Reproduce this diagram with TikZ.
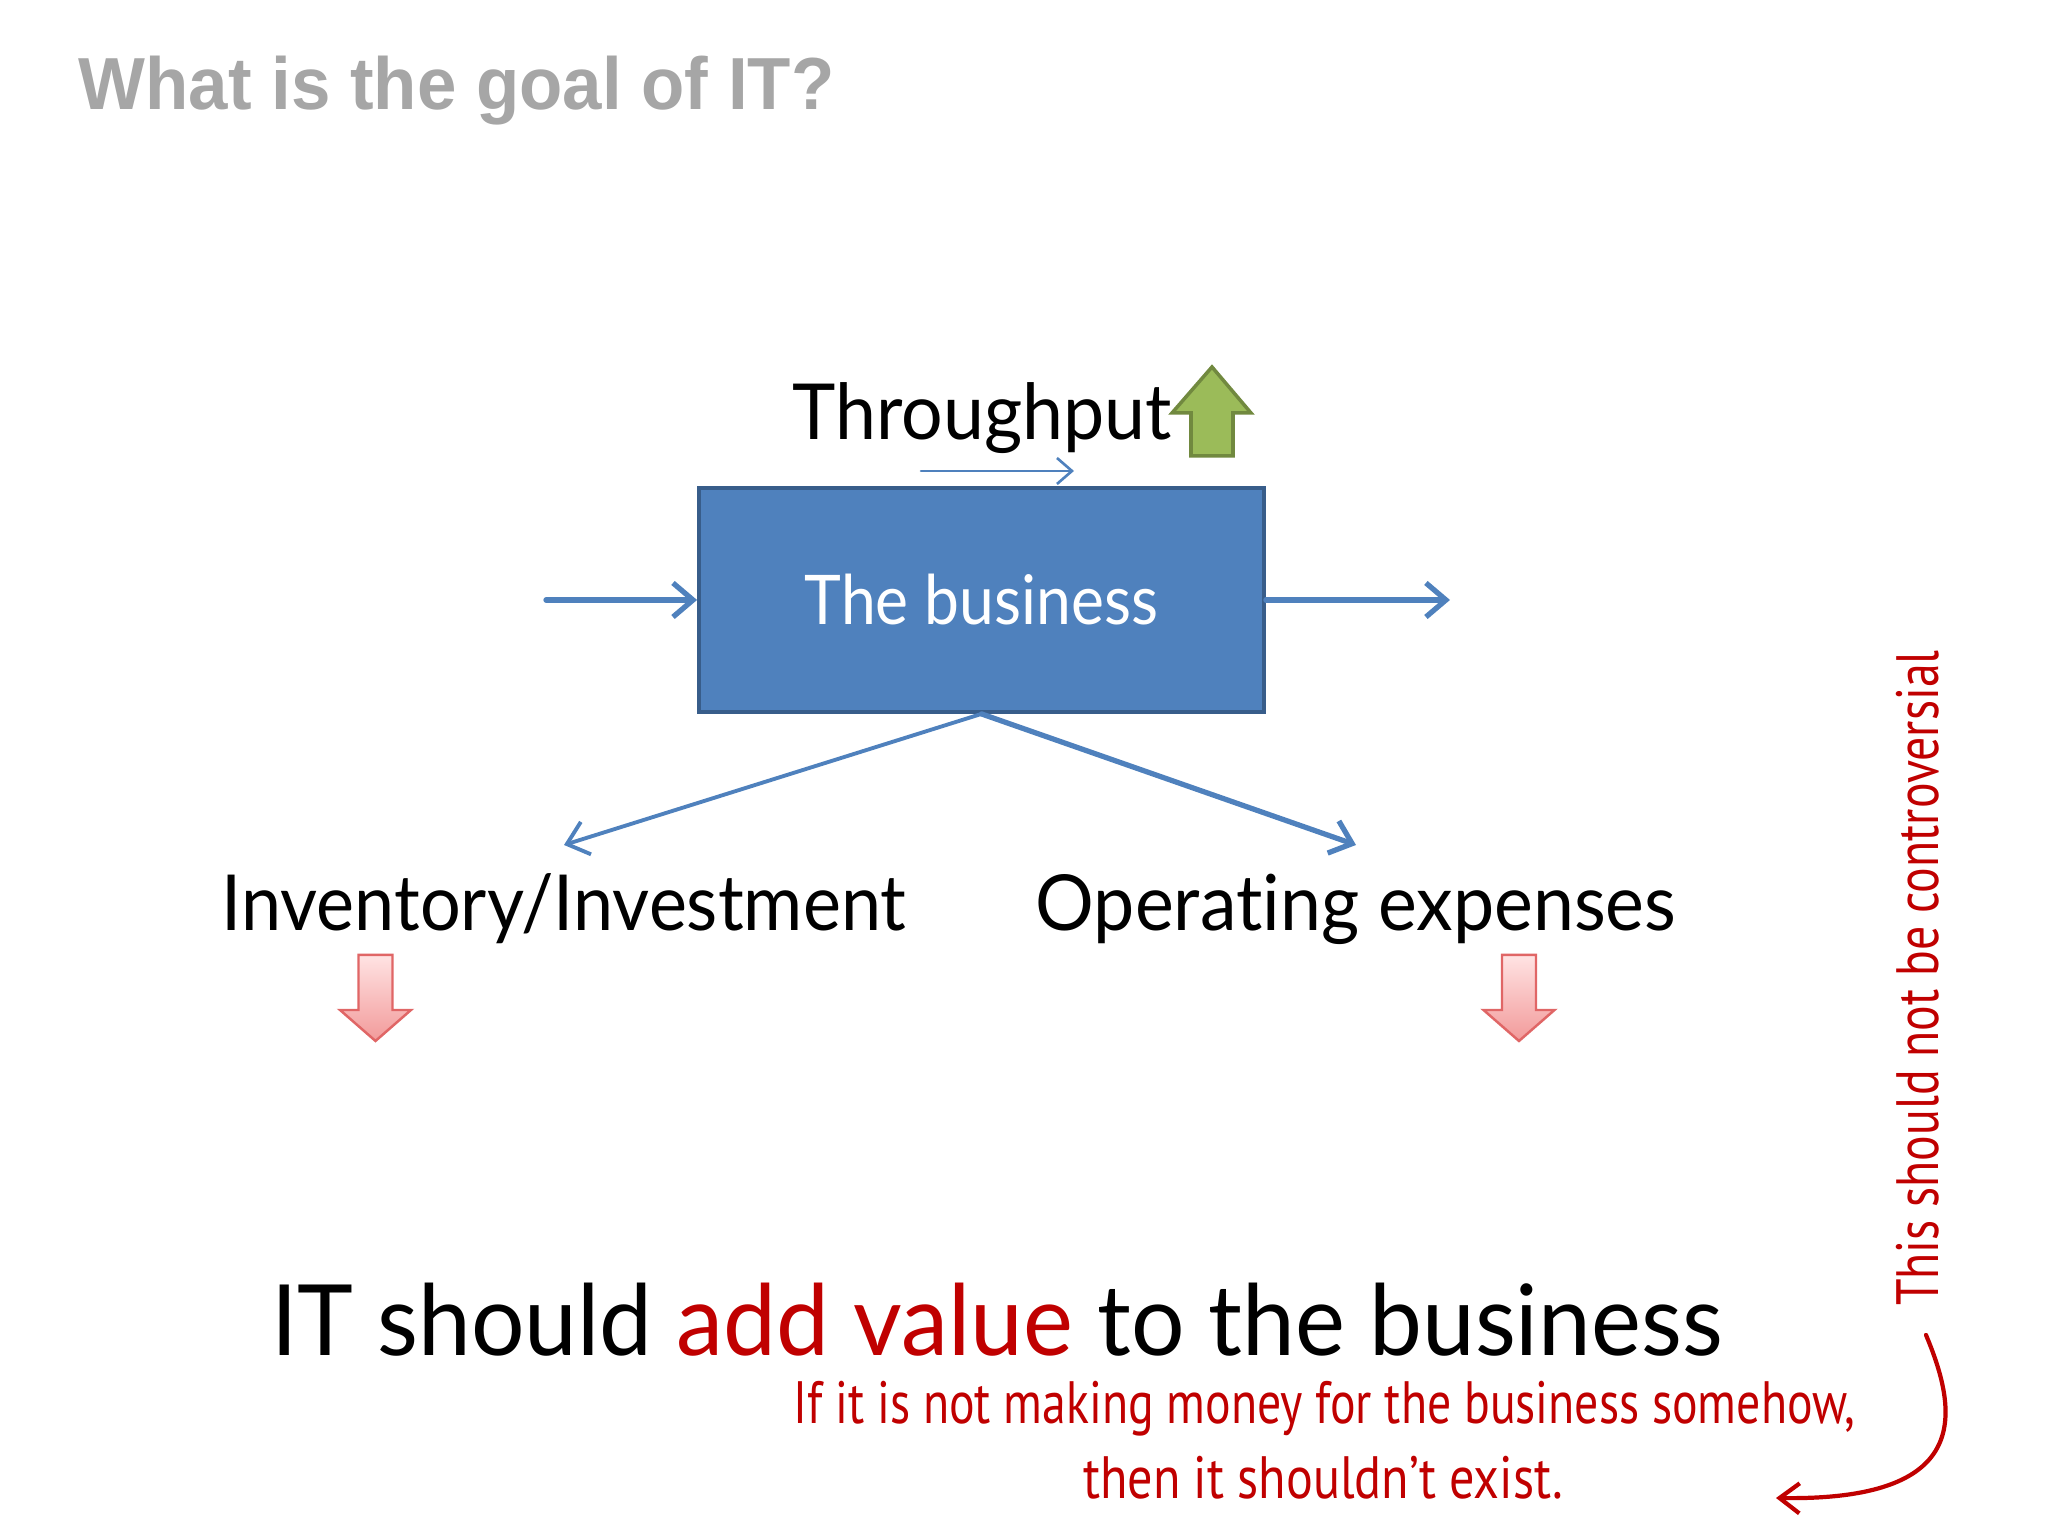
\documentclass[tikz,border=0pt]{standalone}
\usepackage{graphicx}
\usepackage{fontspec}
\setmainfont{Lato}[Ligatures=NoCommon]
\newfontfamily\titlefont{Liberation Sans}
\newfontfamily\handfont{PT Sans}
\usetikzlibrary{arrows.meta}
\definecolor{bizblue}{HTML}{4F81BD}
\definecolor{bizborder}{HTML}{385D8A}
\definecolor{upgreen}{HTML}{9BBB59}
\definecolor{upborder}{HTML}{71893F}
\definecolor{downtop}{HTML}{FFE3E3}
\definecolor{downbot}{HTML}{F29A9A}
\definecolor{downborder}{HTML}{E06666}
\definecolor{notered}{HTML}{C00000}
\definecolor{titlegray}{HTML}{A6A6A6}
\tikzset{
  flow/.style={draw=bizblue, line cap=round, -{Straight Barb[length=2mm,width=3.4mm]}},
  biglabel/.style={font=\fontsize{22}{26}\selectfont, anchor=base, inner sep=0},
  uparrow/.style={draw=upborder, fill=upgreen, line width=1pt},
  downarrow/.style={draw=downborder, top color=downtop, bottom color=downbot, line width=0.7pt},
  note/.style={text=notered, font=\handfont\fontsize{17}{20}\selectfont, inner sep=0},
}
\begin{document}
\begin{tikzpicture}
    \useasboundingbox (0,0) rectangle (20.48,15.36);
    \node[anchor=base west, text=titlegray, font=\titlefont\bfseries\fontsize{21}{25}\selectfont, inner sep=0] (title) at (0.78,14.26) {\scalebox{0.96}[1]{What is the goal of IT?}};
    \node[draw=bizborder, fill=bizblue, line width=1.1pt, minimum width=5.65cm, minimum height=2.24cm, text=white, font=\fontsize{19.5}{24}\selectfont] (business) at (9.815,9.36) {\scalebox{0.91}[1]{The business}};
    \node[biglabel] (throughput) at (9.82,10.96) {\scalebox{0.95}[1]{Throughput}};
    \node[biglabel] (inventory) at (5.64,6.05) {\scalebox{0.93}[1]{Inventory/Investment}};
    \node[biglabel] (opex) at (13.56,6.05) {\scalebox{0.95}[1]{Operating expenses}};
    \coordinate (tp start) at (9.21,10.65);
    \coordinate (tp end) at (10.74,10.65);
    \coordinate (input) at (5.46,9.36);
    \coordinate (output) at (14.50,9.36);
    \coordinate (inv end) at (5.64,6.91);
    \coordinate (opex end) at (13.56,6.91);
    \draw[flow, line width=0.75pt, -{Straight Barb[length=1.5mm,width=2.6mm]}] (tp start) -- (tp end);
    \draw[flow, line width=1.5pt] (input) -- (business.west);
    \draw[flow, line width=1.5pt] (business.east) -- (output);
    \draw[flow, line width=1.1pt] (business.south) -- (inv end);
    \draw[flow, line width=1.5pt] (business.south) -- (opex end);
    \draw[uparrow] (11.91,10.80) -- (11.91,11.23) -- (11.72,11.23) -- (12.12,11.69) -- (12.51,11.23) -- (12.33,11.23) -- (12.33,10.80) -- cycle;
    \foreach \x in {3.755,15.19} {
        \draw[downarrow] ({\x-0.17},5.81) -- ({\x+0.17},5.81) -- ({\x+0.17},5.26) -- ({\x+0.355},5.26) -- (\x,4.95) -- ({\x-0.355},5.26) -- ({\x-0.17},5.26) -- cycle;
    }
    \node[anchor=base, font=\fontsize{28}{34}\selectfont, inner sep=0] (value) at (9.97,1.80) {\scalebox{0.96}[1]{IT should \textcolor{notered}{add value} to the business}};
    \node[note, anchor=base] (note one) at (13.245,1.12) {\scalebox{0.8}[1]{If it is not making money for the business somehow,}};
    \node[note, anchor=base] (note two) at (13.23,0.37) {\scalebox{0.84}[1]{then it shouldn’t exist.}};
    \node[note, rotate=90, anchor=base] (controversial) at (19.38,5.58) {\scalebox{0.8}[1]{This should not be controversial}};
    \coordinate (curl start) at (19.26,2.01);
    \coordinate (curl end) at (17.76,0.38);
    \draw[notered, line width=1.2pt, line cap=round, -{Straight Barb[length=2mm,width=3mm]}] (curl start) .. controls (19.6,1.2) and (19.7,0.35) .. (curl end);
\end{tikzpicture}
\end{document}
